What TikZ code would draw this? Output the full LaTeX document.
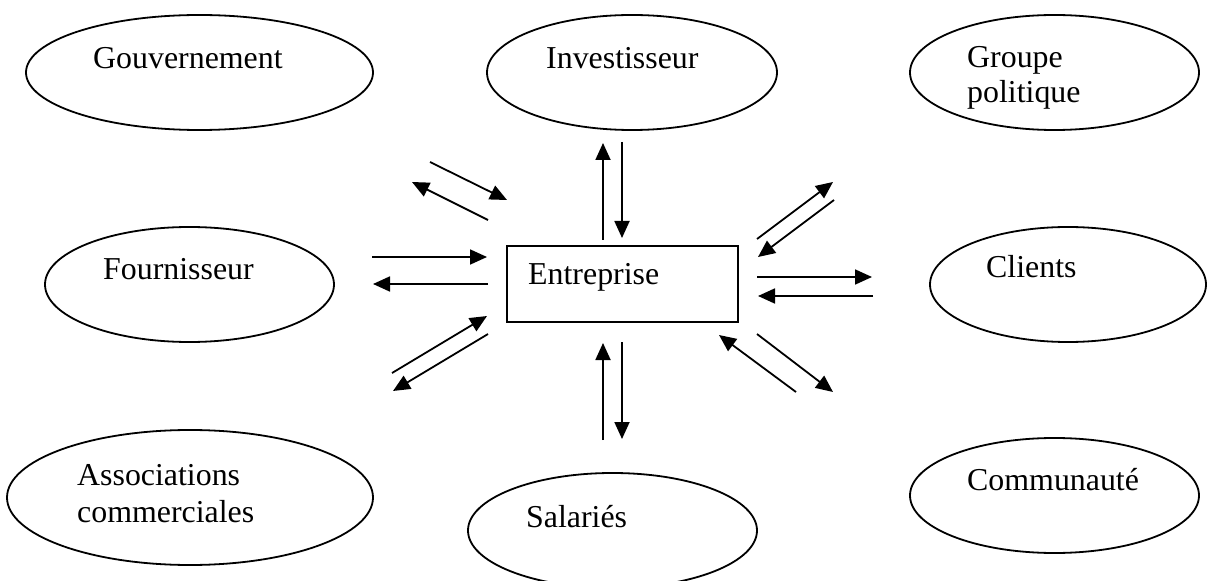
\documentclass[tikz,border=0pt]{standalone}
\usepackage{fontspec}
\setmainfont{Liberation Serif}
\usetikzlibrary{shapes.geometric,arrows.meta}

\begin{document}
\begin{tikzpicture}[%
  x=1bp, y=-1bp,
  every node/.style={font=\fontsize{32}{37}\selectfont},
  partie/.style={draw, ellipse, line width=1.8bp, inner sep=0pt},
  boite/.style={draw, rectangle, line width=1.8bp, inner sep=0pt,
    minimum width=231bp, minimum height=76bp},
  etiq/.style={inner sep=0pt, anchor=base west, align=left},
  flux/.style={line width=1.8bp, -{Triangle[length=17bp,width=15bp]}}]
\useasboundingbox (0,0) rectangle (1210,581);

\node[partie, minimum width=347bp, minimum height=115bp] (gouv) at (199.5,72.5) {};
\node[partie, minimum width=290bp, minimum height=115bp] (invest) at (632,72.5) {};
\node[partie, minimum width=289bp, minimum height=115bp] (groupe) at (1054.5,72.5) {};
\node[partie, minimum width=289bp, minimum height=115bp] (fourn) at (189.5,284.5) {};
\node[partie, minimum width=276bp, minimum height=115bp] (clients) at (1068,284.5) {};
\node[partie, minimum width=366bp, minimum height=135bp] (assoc) at (190,497.5) {};
\node[partie, minimum width=289bp, minimum height=115bp] (salaries) at (612.5,530.5) {};
\node[partie, minimum width=289bp, minimum height=115bp] (commu) at (1054.5,495.5) {};
\node[boite] (ent) at (622.5,284) {};

\node[etiq] (gouvtxt) at (93,69) {Gouvernement};
\node[etiq] (investtxt) at (546,69) {Investisseur};
\node[etiq, anchor=north west, font=\fontsize{32}{35}\selectfont] (groupetxt) at (967,46) {Groupe\\politique};
\node[etiq] (fourntxt) at (103,280) {Fournisseur};
\node[etiq] (enttxt) at (528,285) {Entreprise};
\node[etiq] (clientstxt) at (986,278) {Clients};
\node[etiq, anchor=north west] (assoctxt) at (77,464) {Associations\\commerciales};
\node[etiq] (salariestxt) at (526,527) {Salariés};
\node[etiq] (commutxt) at (967,490) {Communauté};

\foreach \n/\xa/\ya/\xb/\yb in {%
  1/430/162/507/200, 2/488/220/412/182,
  3/603/240/603/143, 4/622/142/622/238,
  5/757/239/833/182, 6/834/200/758/257,
  7/372/257/487/257, 8/488/284/373/284,
  9/757/277/872/277, 10/873/296/758/296,
  11/392/373/487/316, 12/488/334/393/391,
  13/603/440/603/343, 14/622/342/622/439,
  15/796/392/719/335, 16/757/334/833/392} {
  \coordinate (d\n) at (\xa,\ya);
  \coordinate (f\n) at (\xb,\yb);
  \draw[flux] (d\n) -- (f\n);
}
\end{tikzpicture}
\end{document}
